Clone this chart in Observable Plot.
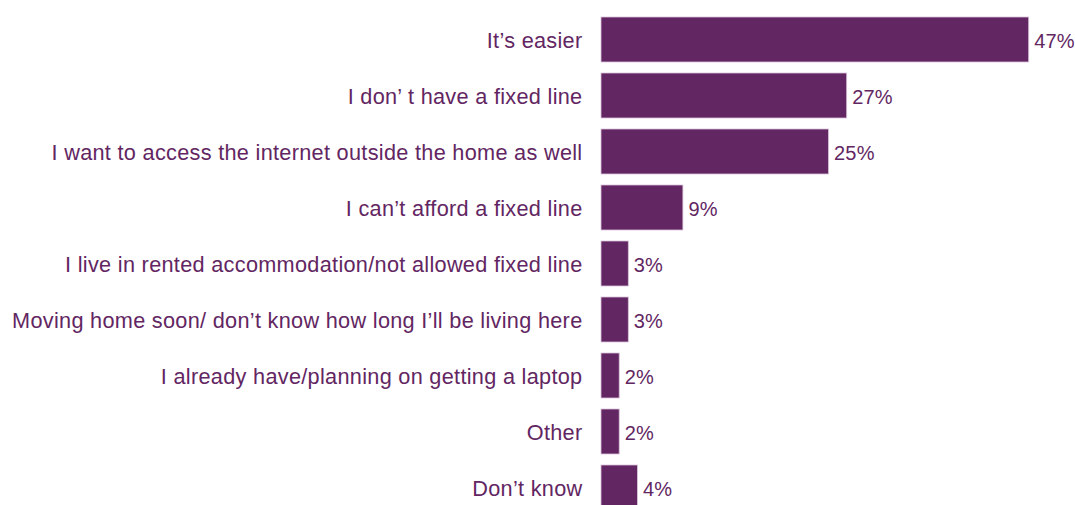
<!DOCTYPE html>
<html><head><meta charset="utf-8">
<script src="https://cdn.jsdelivr.net/npm/d3@7"></script>
<script src="https://cdn.jsdelivr.net/npm/@observablehq/plot@0.6"></script>
<style>
body{margin:0;background:#fff;overflow:hidden}
svg, svg text { font-family: "Liberation Sans", Arial, sans-serif !important; }
g[aria-label="y-axis tick label"] text { letter-spacing: 0.3px; }
g[aria-label="text"] text { letter-spacing: 0.2px; }
</style>
</head><body><div id="chart"></div>
<script>
const categories = [
  "It’s easier",
  "I don’ t have a fixed line",
  "I want to access the internet outside the home as well",
  "I can’t afford a fixed line",
  "I live in rented accommodation/not allowed fixed line",
  "Moving home soon/ don’t know how long I’ll be living here",
  "I already have/planning on getting a laptop",
  "Other",
  "Don’t know"
];
const values = [47, 27, 25, 9, 3, 3, 2, 2, 4];
const data = categories.map((c, i) => ({category: c, value: values[i]}));
const purple = "#622662";
const chart = Plot.plot({
  width: 1075,
  height: 505,
  marginLeft: 601,
  marginRight: 19,
  marginTop: 0,
  marginBottom: 0,
  style: "background:#fff;overflow:visible;font-family:'Liberation Sans',Arial,sans-serif",
  x: {domain: [0, 50], axis: null},
  y: {domain: categories, range: [5.3, 521.8], padding: 0.19, label: null},
  marks: [
    Plot.barX(data, {x: "value", y: "category", fill: purple, stroke: "#d9c4d9", strokeWidth: 0.8}),
    Plot.text(data, {x: "value", y: "category", text: d => d.value + "%", textAnchor: "start", dx: 5, dy: 1.8, fill: purple, fontSize: 20}),
    Plot.axisY({tickSize: 0, tickPadding: 19, dy: 1.3, fontSize: 21.7, color: purple, label: null})
  ]
});
document.getElementById("chart").appendChild(chart);
</script></body></html>
